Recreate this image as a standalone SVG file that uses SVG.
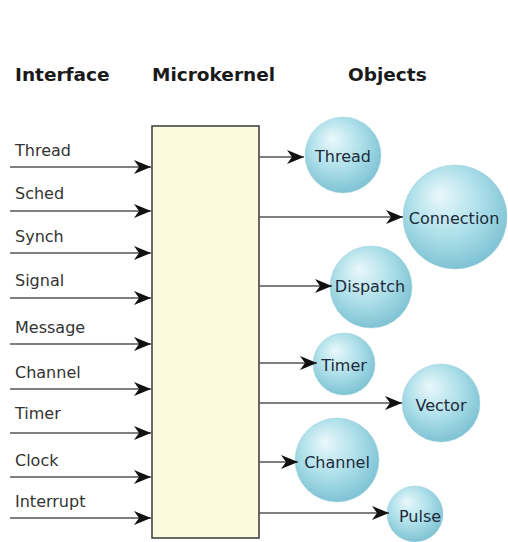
<svg xmlns="http://www.w3.org/2000/svg" width="508" height="542" viewBox="0 0 508 542">
<defs>
<radialGradient id="ball" cx="0.45" cy="0.4" r="0.6" fx="0.35" fy="0.28">
<stop offset="0" stop-color="#eaf8fb"/>
<stop offset="0.55" stop-color="#afe0ea"/>
<stop offset="1" stop-color="#7fc3d4"/>
</radialGradient>
<marker id="arr" markerUnits="userSpaceOnUse" markerWidth="18" markerHeight="14" refX="17" refY="7" orient="auto">
<path d="M0,0 L17,7 L0,14 L5,7 Z" fill="#111"/>
</marker>
</defs>
<style>
.hd{font-family:"DejaVu Sans",Verdana,sans-serif;font-weight:bold;font-size:18.5px;fill:#1a1a1a}
.lb{font-family:"DejaVu Sans",Verdana,sans-serif;font-size:16px;fill:#333}
.ob{font-family:"DejaVu Sans",Verdana,sans-serif;font-size:16px;fill:#1c2b3a;text-anchor:middle}
.ln{stroke:#555;stroke-width:1.5;fill:none;marker-end:url(#arr)}
.ball{fill:url(#ball);stroke:#9fd2de;stroke-width:0.5}
</style>
<rect width="508" height="542" fill="#fff"/>
<g id="headers">
<text class="hd" x="15" y="81">Interface</text>
<text class="hd" x="152" y="81">Microkernel</text>
<text class="hd" x="348" y="81">Objects</text>
</g>
<g id="microkernel">
<rect x="152" y="126" width="107" height="412" fill="#fdf9dc" stroke="#444" stroke-width="1.6"/>
</g>
<g id="interface-labels">
<text class="lb" x="15" y="156">Thread</text>
<text class="lb" x="15" y="199">Sched</text>
<text class="lb" x="15" y="242">Synch</text>
<text class="lb" x="15" y="286">Signal</text>
<text class="lb" x="15" y="333">Message</text>
<text class="lb" x="15" y="378">Channel</text>
<text class="lb" x="15" y="419">Timer</text>
<text class="lb" x="15" y="466">Clock</text>
<text class="lb" x="15" y="507">Interrupt</text>
</g>
<g id="obj-thread"><circle class="ball" cx="343" cy="155" r="38"/><text class="ob" x="343" y="162">Thread</text></g>
<g id="obj-connection"><circle class="ball" cx="455" cy="217" r="52"/><text class="ob" x="454" y="224">Connection</text></g>
<g id="obj-dispatch"><circle class="ball" cx="371" cy="287" r="41"/><text class="ob" x="370" y="292">Dispatch</text></g>
<g id="obj-timer"><circle class="ball" cx="344" cy="364" r="31"/><text class="ob" x="344" y="371">Timer</text></g>
<g id="obj-vector"><circle class="ball" cx="441" cy="403" r="39"/><text class="ob" x="441" y="411">Vector</text></g>
<g id="obj-channel"><circle class="ball" cx="337" cy="460" r="42"/><text class="ob" x="337" y="468">Channel</text></g>
<g id="obj-pulse"><circle class="ball" cx="415" cy="514" r="28"/><text class="ob" x="420" y="522">Pulse</text></g>
<g id="connectors">
<line class="ln" x1="10" y1="167" x2="151" y2="167"/>
<line class="ln" x1="10" y1="211" x2="151" y2="211"/>
<line class="ln" x1="10" y1="253" x2="151" y2="253"/>
<line class="ln" x1="10" y1="298" x2="151" y2="298"/>
<line class="ln" x1="10" y1="344" x2="151" y2="344"/>
<line class="ln" x1="10" y1="389" x2="151" y2="389"/>
<line class="ln" x1="10" y1="433" x2="151" y2="433"/>
<line class="ln" x1="10" y1="477" x2="151" y2="477"/>
<line class="ln" x1="10" y1="518" x2="151" y2="518"/>
<line class="ln" x1="259" y1="157" x2="304" y2="157"/>
<line class="ln" x1="259" y1="217" x2="403" y2="217"/>
<line class="ln" x1="259" y1="286" x2="332" y2="286"/>
<line class="ln" x1="259" y1="363" x2="317" y2="363"/>
<line class="ln" x1="259" y1="403" x2="402" y2="403"/>
<line class="ln" x1="259" y1="462" x2="298" y2="462"/>
<line class="ln" x1="259" y1="513" x2="389" y2="513"/>
</g>
</svg>
